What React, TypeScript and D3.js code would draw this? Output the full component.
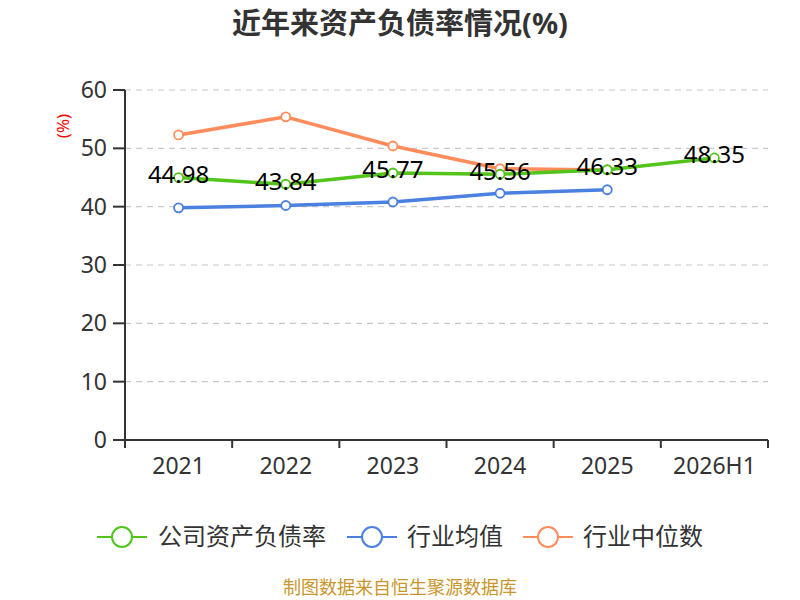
import React from 'react';
import * as d3 from 'd3';

const categories = ['2021', '2022', '2023', '2024', '2025', '2026H1'];
const companyRatio = [44.98, 43.84, 45.77, 45.56, 46.33, 48.35];
const industryAvg = [39.8, 40.2, 40.8, 42.3, 42.9];
const industryMedian = [52.3, 55.4, 50.4, 46.5, 46.3];
const yTicks = [0, 10, 20, 30, 40, 50, 60];

const seriesList = [
  { name: '公司资产负债率', color: '#52c41a', values: companyRatio },
  { name: '行业均值', color: '#4a80e0', values: industryAvg },
  { name: '行业中位数', color: '#ff8c5a', values: industryMedian },
];

const font = '"Noto Sans", "Noto Sans CJK SC", sans-serif';

const App: React.FC = () => {
  const width = 800;
  const height = 600;
  const margin = { top: 90, right: 32, bottom: 160, left: 125 };
  const innerW = width - margin.left - margin.right;
  const innerH = height - margin.top - margin.bottom;

  const x = d3.scaleBand().domain(categories).range([0, innerW]);
  const y = d3.scaleLinear().domain([0, 60]).range([innerH, 0]);
  const cx = (i: number) => x(categories[i])! + x.bandwidth() / 2;

  const line = d3
    .line<number>()
    .x((_, i) => cx(i))
    .y(d => y(d));

  // legend symbol start / text start
  const legendItems = [
    { x: 97, textX: 158 },
    { x: 347, textX: 407 },
    { x: 523, textX: 583 },
  ];

  return (
    <svg
      width={width}
      height={height}
      style={{ display: 'block', position: 'absolute', top: 0, left: 0 }}
      fontFamily={font}
    >
      <rect width={width} height={height} fill="#fff" />
      <text x={400} y={34} textAnchor="middle" fontSize={29} fontWeight="bold" fill="#333">
        近年来资产负债率情况(%)
      </text>
      <text transform="translate(69,126) rotate(-90)" textAnchor="middle" fontSize={17} fill="#ff0000">
        (%)
      </text>
      <g transform={`translate(${margin.left},${margin.top})`}>
        {yTicks.filter(t => t > 0).map(t => (
          <line key={t} x1={0} x2={innerW} y1={y(t)} y2={y(t)} stroke="#c8c8c8" strokeDasharray="6,5" strokeWidth={1.2} />
        ))}
        {yTicks.map(t => (
          <g key={t}>
            <line x1={-12} x2={0} y1={y(t)} y2={y(t)} stroke="#333" strokeWidth={2} />
            <text x={-18} y={y(t)} dy="0.35em" textAnchor="end" fontSize={23} fill="#333">
              {t}
            </text>
          </g>
        ))}
        <line x1={0} x2={0} y1={0} y2={innerH + 8} stroke="#333" strokeWidth={2} />
        <line x1={-12} x2={innerW} y1={innerH} y2={innerH} stroke="#333" strokeWidth={2} />
        {categories.map((c, i) => (
          <g key={c}>
            <line x1={x(c)!} x2={x(c)!} y1={innerH} y2={innerH + 8} stroke="#333" strokeWidth={2} />
            <text x={cx(i)} y={innerH + 34} textAnchor="middle" fontSize={23} fill="#333">
              {c}
            </text>
          </g>
        ))}
        <line x1={innerW} x2={innerW} y1={innerH} y2={innerH + 8} stroke="#333" strokeWidth={2} />
        {seriesList.slice().reverse().map(s => (
          <g key={s.name}>
            <path d={line(s.values)!} fill="none" stroke={s.color} strokeWidth={3.5} strokeLinejoin="round" />
            {s.values.map((v, i) => (
              <circle key={i} cx={cx(i)} cy={y(v)} r={4.5} fill="#fff" stroke={s.color} strokeWidth={1.8} />
            ))}
          </g>
        ))}
        {companyRatio.map((v, i) => (
          <text key={i} x={cx(i)} y={y(v) - 3} dy="0.35em" textAnchor="middle" fontSize={24} fill="#000">
            {v.toFixed(2)}
          </text>
        ))}
      </g>
      {seriesList.map((s, i) => (
        <g key={s.name}>
          <line x1={legendItems[i].x} x2={legendItems[i].x + 50} y1={537} y2={537} stroke={s.color} strokeWidth={2} />
          <circle cx={legendItems[i].x + 25} cy={537} r={10} fill="#fff" stroke={s.color} strokeWidth={2} />
          <text x={legendItems[i].textX} y={537} dy="0.35em" fontSize={24} fill="#333">
            {s.name}
          </text>
        </g>
      ))}
      <text x={400} y={588} dy="0.35em" textAnchor="middle" fontSize={18} fill="#c8962a">
        制图数据来自恒生聚源数据库
      </text>
    </svg>
  );
};

export default App;
